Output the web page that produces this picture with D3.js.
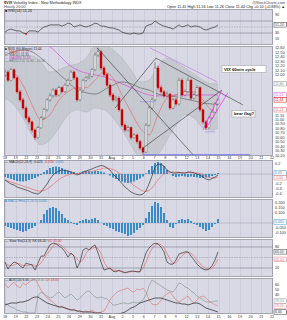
<!DOCTYPE html>
<html><head><meta charset="utf-8">
<script src="https://cdn.jsdelivr.net/npm/d3@7"></script>
<style>
body{margin:0;background:#fff}
svg{display:block}
text{font-family:"Liberation Sans",Arial,sans-serif}
</style>
</head><body>
<svg id="c" width="287" height="320"></svg>
<script>
// ---------- DATA ----------
const dayLabels=["18","19","22","23","24","25","26","29","30","31","Aug","2","5","6","7","8","9","12","13","14","15","16","19","20","21","22"];
const open =[12.00,12.06,11.88,12.11,11.93,11.62,11.44,11.26,11.04,10.95,10.77,10.60,10.82,11.04,11.22,11.44,11.53,11.66,11.55,11.71,11.62,11.77,11.88,12.06,11.93,11.44,11.66,11.88,11.93,11.97,12.11,12.44,12.51,12.15,12.00,11.77,11.55,11.44,11.48,11.22,10.88,10.77,10.82,10.60,10.66,10.51,10.37,10.28,10.88,11.26,11.44,12.15,11.71,11.62,11.53,11.57,11.26,11.44,11.35,11.88,11.55,11.62,11.88,11.48,11.55,11.71,11.22,10.95,10.82,11.04,11.17,11.35];
const high =[12.12,12.10,12.16,12.14,11.96,11.66,11.48,11.30,11.08,10.98,10.80,10.86,11.08,11.26,11.48,11.58,11.70,11.70,11.75,11.74,11.81,11.92,12.10,12.09,11.96,11.70,11.91,11.97,12.01,12.15,12.50,12.60,12.55,12.20,12.04,11.80,11.59,11.53,11.52,11.25,10.92,10.87,10.85,10.70,10.69,10.55,10.40,10.92,11.30,11.50,12.28,12.20,11.76,11.66,11.62,11.60,11.48,11.48,11.93,11.92,11.67,11.95,11.91,11.60,11.76,11.74,11.25,10.99,11.08,11.21,11.39,11.48];
const low  =[11.95,11.84,11.85,11.90,11.58,11.40,11.22,11.00,10.90,10.72,10.55,10.57,10.79,11.00,11.18,11.40,11.49,11.51,11.52,11.58,11.59,11.74,11.85,11.89,11.40,11.41,11.63,11.85,11.90,11.94,12.08,12.40,12.10,11.96,11.73,11.51,11.40,11.41,11.18,10.84,10.73,10.74,10.56,10.57,10.47,10.33,10.22,10.26,10.85,11.22,11.41,11.67,11.58,11.49,11.50,11.22,11.23,11.31,11.32,11.51,11.52,11.59,11.44,11.45,11.52,11.18,10.91,10.77,10.79,11.01,11.14,11.32];
const close=[12.06,11.88,12.11,11.93,11.62,11.44,11.26,11.04,10.95,10.77,10.60,10.82,11.04,11.22,11.44,11.53,11.66,11.55,11.71,11.62,11.77,11.88,12.06,11.93,11.44,11.66,11.88,11.93,11.97,12.11,12.44,12.51,12.15,12.00,11.77,11.55,11.44,11.48,11.22,10.88,10.77,10.82,10.60,10.66,10.51,10.37,10.28,10.88,11.26,11.44,12.15,11.71,11.62,11.53,11.57,11.26,11.44,11.35,11.88,11.55,11.62,11.88,11.48,11.55,11.71,11.22,10.95,10.82,11.04,11.17,11.35,11.44];
// overlays sampled every 3 bars
const ovIdx  =[0,3,6,9,12,15,18,21,24,27,30,33,36,39,42,45,48,51,54,57,60,63,66,69,71];
const bbUpper=[12.28,12.37,12.44,12.42,12.28,12.06,12.11,12.20,12.24,12.37,12.64,12.68,12.55,12.37,12.11,11.84,11.88,12.20,12.37,12.28,12.15,12.02,11.88,11.80,11.80];
const bbLower=[11.48,11.33,11.04,10.66,10.44,10.55,10.82,11.11,11.22,11.17,11.26,11.22,11.04,10.77,10.44,10.15,10.11,10.22,10.55,10.88,11.11,11.04,10.82,10.77,10.82];
const ma10   =[11.97,12.02,11.77,11.33,11.00,11.11,11.44,11.62,11.71,11.71,11.88,12.06,11.93,11.55,11.17,10.82,10.66,11.11,11.48,11.55,11.62,11.62,11.44,11.22,11.22];
const ma50   =[12.44,12.51,12.55,12.51,12.37,12.20,12.02,11.84,11.66,11.60,11.57,11.66,11.77,11.84,11.80,11.71,11.66,11.57,11.53,11.51,11.46,11.42,11.37,11.35,11.33];
const ma200  =[13.22,13.11,13.00,12.86,12.73,12.62,12.44,12.24,12.11,12.04,12.00,11.95,11.88,11.80,11.71,11.62,11.55,11.53,11.53,11.55,11.55,11.55,11.55,11.55,11.55];
const rsi=[33,40,43,40,37,37,30,27,37,37,37,33,43,50,53,57,57,57,57,53,57,63,60,50,53,57,53,50,53,57,63,60,53,53,50,47,47,43,40,33,30,27,27,30,27,27,30,53,57,60,70,63,57,53,50,47,43,50,57,50,53,57,50,53,53,50,43,40,43,47,50,57];
const macd=[-0.12,-0.16,-0.20,-0.22,-0.26,-0.28,-0.30,-0.32,-0.34,-0.37,-0.39,-0.40,-0.36,-0.28,-0.20,-0.10,-0.02,0.03,0.06,0.08,0.07,0.06,0.04,0.01,-0.02,0.00,0.04,0.06,0.08,0.10,0.13,0.15,0.17,0.16,0.12,0.08,0.00,-0.06,-0.12,-0.19,-0.26,-0.31,-0.36,-0.39,-0.41,-0.42,-0.40,-0.34,-0.20,-0.04,0.14,0.20,0.19,0.16,0.08,0.04,0.02,0.02,0.03,0.02,0.02,0.04,0.04,0.02,0.00,-0.02,-0.06,-0.10,-0.12,-0.09,-0.06,-0.02];
const signal=[-0.12,-0.14,-0.16,-0.18,-0.20,-0.22,-0.24,-0.26,-0.28,-0.30,-0.32,-0.34,-0.34,-0.33,-0.30,-0.26,-0.21,-0.16,-0.11,-0.07,-0.04,-0.02,0.00,0.01,0.01,0.01,0.02,0.03,0.04,0.05,0.07,0.09,0.10,0.12,0.12,0.11,0.09,0.06,0.02,-0.03,-0.08,-0.13,-0.18,-0.23,-0.27,-0.31,-0.34,-0.35,-0.33,-0.28,-0.20,-0.12,-0.05,0.00,0.03,0.04,0.04,0.04,0.03,0.03,0.02,0.03,0.03,0.03,0.02,0.01,-0.01,-0.04,-0.07,-0.08,-0.08,-0.06];
const macdHist=[-0.06,-0.08,-0.10,-0.12,-0.14,-0.15,-0.15,-0.14,-0.12,-0.10,-0.08,-0.05,-0.02,0.04,0.08,0.12,0.14,0.15,0.14,0.12,0.09,0.07,0.05,0.04,0.02,0.03,0.05,0.06,0.06,0.05,0.06,0.06,0.05,0.03,0.00,-0.03,-0.07,-0.10,-0.13,-0.15,-0.17,-0.18,-0.17,-0.15,-0.12,-0.09,-0.05,0.01,0.08,0.16,0.22,0.24,0.22,0.16,0.08,0.00,-0.04,-0.06,-0.05,-0.04,-0.05,-0.06,-0.05,-0.06,-0.07,-0.08,-0.08,-0.07,-0.06,-0.04,-0.02,0.02];
const hist2=[-0.03,-0.04,-0.05,-0.06,-0.07,-0.08,-0.09,-0.08,-0.06,-0.05,-0.03,0.00,0.03,0.09,0.13,0.15,0.16,0.15,0.12,0.09,0.05,0.03,0.01,-0.01,-0.02,0.02,0.03,0.04,0.03,0.04,0.05,0.03,0.00,-0.02,-0.03,-0.05,-0.06,-0.08,-0.09,-0.10,-0.11,-0.13,-0.12,-0.10,-0.07,-0.05,-0.02,0.05,0.11,0.17,0.21,0.20,0.16,0.10,0.03,-0.04,-0.05,-0.01,0.03,0.04,0.03,0.04,0.02,-0.01,-0.02,-0.04,-0.06,-0.08,-0.07,-0.04,-0.01,0.04];
const stochK=[37,17,29,37,34,26,20,34,31,29,14,34,54,54,71,86,91,89,83,77,66,51,63,54,20,37,71,77,71,80,86,63,37,14,17,20,11,9,14,9,6,9,11,11,9,9,37,63,77,86,91,89,80,66,37,31,31,43,60,63,66,66,54,43,31,23,17,14,17,26,43,66];
const stochD=[35,28,27,28,33,32,27,27,28,31,25,26,34,47,60,70,83,89,88,83,75,65,60,56,46,37,43,62,73,76,79,76,62,38,23,17,15,13,11,11,8,8,9,10,10,10,18,36,59,75,85,89,87,78,61,45,33,35,45,55,63,65,62,54,43,32,24,18,16,19,29,45];
const adx  =[20,22,24,24,24,26,26,28,30,34,36,36,32,28,24,22,20,18,16,16,14,12,10,10,8,8,6,6,6,6,4,4,4,2,2,2,0,2,2,4,6,10,14,16,20,24,26,28,30,32,34,34,34,32,30,28,26,24,24,22,22,20,22,24,24,22,18,14,12,10,8,6];
const plusDI=[24,20,16,14,10,8,6,6,4,4,4,38,46,42,38,34,36,42,46,40,34,38,42,36,30,34,40,46,48,42,36,34,36,34,32,26,20,20,22,24,24,22,24,26,24,26,30,40,58,70,66,62,58,54,50,48,46,54,64,62,56,54,48,44,38,34,30,26,26,26,28,28];
const minusDI=[62,54,60,66,58,54,64,60,66,70,72,62,50,42,34,30,26,20,16,18,14,12,10,12,8,6,6,8,6,10,6,4,6,8,18,30,38,44,48,50,52,54,48,46,52,50,54,46,30,22,20,22,30,38,42,46,38,30,26,30,34,38,30,24,30,36,38,34,28,24,20,18];
const priceTicks=[10.2,10.3,10.4,10.5,10.6,10.7,10.8,10.9,11.0,11.1,11.2,11.3,11.4,11.5,11.6,11.7,11.8,11.9,12.0,12.1,12.2,12.3,12.4,12.5,12.6];
const rsiTicks=[90,70,30,10];
const macdTicks=[0.2,0.1,0.0,-0.1,-0.2,-0.3,-0.4];
const histTicks=[0.2,0.15,0.1,0.05,-0.05,-0.1];
const stochTicks=[80,20];
const adxTicks=[60,50,40,30,20,10];
// drawn annotation lines [barIndexA, priceA, barIndexB, priceB]
const trendBlack=[[30.7,12.60,62.7,10.22],[36.7,11.26,50.3,12.37],[50.3,12.37,79.3,11.33],[46,10.37,72.3,11.66]];
const trendViolet=[[48.3,12.60,70.7,11.84]];
const trendMagenta=[[66,10.77,72.3,11.66],[67.7,10.88,74.3,11.60]];
const supportThick=[[46,10.22,81.7,10.22]];
const supportThin=[[45,11.40,50,11.40],[66.7,10.73,70,10.73]];

// ---------- LAYOUT ----------
const svg=d3.select("#c");
const L=4,R=273;
const BG="#d9d9e6",GRID="#c3c3d6",BORDER="#8e8ea0",TXT="#333";
const xi=d3.scaleLinear().domain([0,71]).range([5,218]);
const xd=d3.scaleLinear().domain([0,25]).range([5,272]);
const FS=3.8;

function panel(top,bottom,id){
  const g=svg.append("g");
  g.append("rect").attr("x",L).attr("y",top).attr("width",R-L).attr("height",bottom-top).attr("fill",BG);
  g.selectAll("line.v").data(dayLabels).join("line").attr("x1",(d,i)=>Math.round(xd(i))+0.5).attr("x2",(d,i)=>Math.round(xd(i))+0.5)
    .attr("y1",top).attr("y2",bottom).attr("stroke",GRID).attr("stroke-width",0.6);
  svg.append("clipPath").attr("id",id).append("rect").attr("x",L).attr("y",top).attr("width",R-L).attr("height",bottom-top);
  const inner=svg.append("g").attr("clip-path",`url(#${id})`);
  return {g,inner,top,bottom};
}
function border(p){svg.append("rect").attr("x",L+0.5).attr("y",p.top+0.5).attr("width",R-L-1).attr("height",p.bottom-p.top-1).attr("fill","none").attr("stroke",BORDER).attr("stroke-width",0.7);}
// right labels, skipping those that collide with value boxes
function rightLabels(ticks,y,fmt,boxYs){
  const keep=ticks.filter(t=>!(boxYs||[]).some(b=>Math.abs(y(t)-b)<4.6));
  svg.append("g").selectAll("text").data(keep).join("text").attr("x",275).attr("y",d=>y(d)+1.3).attr("font-size",FS).attr("fill",TXT).text(fmt);
}
function hline(p,y,v,dash,col,w){p.inner.append("line").attr("x1",L).attr("x2",R).attr("y1",y(v)).attr("y2",y(v)).attr("stroke",col).attr("stroke-width",w||0.7).attr("stroke-dasharray",dash||null);}
// value boxes, pushed apart so they never overlap
function valueBoxes(items){
  items.sort((a,b)=>a[0]-b[0]);
  for(let i=1;i<items.length;i++){ if(items[i][0]-items[i-1][0]<4.8) items[i][0]=items[i-1][0]+4.8; }
  items.forEach(([y,txt,col])=>{
    const g=svg.append("g");
    g.append("rect").attr("x",274).attr("y",y-2.2).attr("width",12.5).attr("height",4.4).attr("fill","#fff").attr("stroke",col).attr("stroke-width",0.5);
    g.append("text").attr("x",275).attr("y",y+1.3).attr("font-size",3.5).attr("fill",col).text(txt);
  });
  return items.map(d=>d[0]);
}
function linePath(p,vals,y,col,w,idx){
  const ln=d3.line().x((d,i)=>xi(idx?idx[i]:i)).y(d=>y(d));
  p.inner.append("path").attr("d",ln(vals)).attr("fill","none").attr("stroke",col).attr("stroke-width",w);
}

// ---------- HEADER ----------
svg.append("text").attr("x",4).attr("y",4).attr("font-size",FS).attr("fill","#222")
  .html('<tspan font-weight="bold">$VIX</tspan> Volatility Index - New Methodology  INDX');
svg.append("text").attr("x",285).attr("y",3.5).attr("text-anchor","end").attr("font-size",FS).attr("fill","#444").text("@StockCharts.com");
svg.append("text").attr("x",4).attr("y",8).attr("font-size",FS).attr("fill","#444").text("Hourly  20:00");
svg.append("text").attr("x",285).attr("y",8).attr("text-anchor","end").attr("font-size",FS).attr("fill","#222")
  .text("Open 11.41  High 11.56  Low 11.26  Close 11.44  Chg +0.10 (+0.88%) \u25B2");

// ---------- RSI ----------
const pR=panel(9,45,"cR");
const yR=d3.scaleLinear().domain([0,100]).range([42,12]);
hline(pR,yR,70,null,"#8a8a9a",0.7);hline(pR,yR,30,null,"#8a8a9a",0.7);hline(pR,yR,50,"1.5,1","#9a9aaa",0.6);
linePath(pR,rsi,yR,"#333",0.7);
pR.inner.append("circle").attr("cx",xi(7)).attr("cy",yR(rsi[7])).attr("r",0.9).attr("fill","#d00");
border(pR);
let bx=valueBoxes([[yR(rsi[71]),"51.24","#333"]]);
rightLabels(rsiTicks,yR,d=>d,bx);
svg.append("text").attr("x",5).attr("y",12).attr("font-size",FS).attr("fill","#222").text("\u25A0 RSI(14) 51.24");

// ---------- PRICE ----------
const pP=panel(46,156,"cP");
const yP=d3.scaleLinear().domain([10.17,12.64]).range([157,46]);
const area=d3.area().x((d,i)=>xi(ovIdx[i])).y0((d,i)=>yP(bbLower[i])).y1(d=>yP(d)).curve(d3.curveMonotoneX);
pP.inner.append("path").attr("d",area(bbUpper)).attr("fill","#bfc4c8").attr("opacity",0.75);
const ul=d3.line().x((d,i)=>xi(ovIdx[i])).y(d=>yP(d)).curve(d3.curveMonotoneX);
pP.inner.append("path").attr("d",ul(bbUpper)).attr("fill","none").attr("stroke","#aab0b4").attr("stroke-width",0.5);
pP.inner.append("path").attr("d",ul(bbLower)).attr("fill","none").attr("stroke","#aab0b4").attr("stroke-width",0.5);
pP.inner.append("path").attr("d",ul(ma200)).attr("fill","none").attr("stroke","#d84fd8").attr("stroke-width",0.7);
pP.inner.append("path").attr("d",ul(ma50)).attr("fill","none").attr("stroke","#555").attr("stroke-width",0.6);
pP.inner.append("path").attr("d",ul(ma10)).attr("fill","none").attr("stroke","#e06060").attr("stroke-width",0.6);
// candles
const cg=pP.inner.append("g");
close.forEach((c,i)=>{
  const o=open[i],x=Math.round(xi(i));
  const down=c<o;
  cg.append("line").attr("x1",x).attr("x2",x).attr("y1",yP(high[i])).attr("y2",yP(low[i])).attr("stroke",down?"#c00":"#555").attr("stroke-width",0.6);
  const yt=yP(Math.max(o,c)),yb=yP(Math.min(o,c));
  cg.append("rect").attr("x",x-1).attr("y",yt).attr("width",2).attr("height",Math.max(0.8,yb-yt))
    .attr("fill",down?"#d00000":"#f4f4f4").attr("stroke",down?"#b00":"#555").attr("stroke-width",0.4);
});
function segs(arr,col,w){arr.forEach(s=>pP.inner.append("line").attr("x1",xi(s[0])).attr("y1",yP(s[1])).attr("x2",xi(s[2])).attr("y2",yP(s[3])).attr("stroke",col).attr("stroke-width",w));}
segs(supportThick,"#8c8cf0",1.6);
segs(supportThin,"#8c8cf0",0.6);
segs(trendBlack,"#333",0.6);
segs(trendViolet,"#b070e0",0.6);
segs(trendMagenta,"#ff00ff",0.6);
// annotations
function note(x,y,w,h,txt){
  svg.append("rect").attr("x",x).attr("y",y).attr("width",w).attr("height",h).attr("fill","#fff").attr("stroke","#999").attr("stroke-width",0.5);
  svg.append("text").attr("x",x+2).attr("y",y+h-1.8).attr("font-size",4.2).attr("font-weight","bold").attr("fill","#111").text(txt);
}
note(222,65.5,44,7,"VIX 60min cycle");
note(232,110.5,23,6.5,"bear flag?");
border(pP);
bx=valueBoxes([[yP(11.80),"11.80","#888"],[yP(11.55),"11.55","#d84fd8"],[yP(11.44),"11.44","#c00"],[yP(11.22),"11.22","#e06060"]]);
rightLabels(priceTicks,yP,d=>d.toFixed(2),bx);
// legend
const leg=[["\u25A0 $VIX (60 Minute) 11.44","#222"],["\u2014 MA(10) 11.22","#d04040"],["\u2014 MA(50) 11.33","#555"],["\u2014 MA(200) 11.55","#c040c0"],["\u2014 BB(20,2.0) 11.80 - 10.82","#777"]];
leg.forEach((d,i)=>svg.append("text").attr("x",5).attr("y",49.5+i*3).attr("font-size",3.3).attr("fill",d[1]).text(d[0]));

// date labels rows
function dateRow(y){svg.append("g").selectAll("text").data(dayLabels).join("text").attr("x",(d,i)=>xd(i)).attr("y",y).attr("text-anchor","middle").attr("font-size",FS).attr("fill",TXT).text(d=>d);}
dateRow(159);

// ---------- MACD ----------
const pM=panel(160,198,"cM");
const yM=d3.scaleLinear().domain([-0.48,0.28]).range([198,160]);
hline(pM,yM,0,null,"#9a9aaa",0.5);
pM.inner.append("g").selectAll("rect").data(macdHist).join("rect").attr("x",(d,i)=>xi(i)-1).attr("width",2)
  .attr("y",d=>Math.min(yM(d),yM(0))).attr("height",d=>Math.abs(yM(d)-yM(0))).attr("fill","#3a8cc8");
linePath(pM,signal,yM,"#e07070",0.7);
linePath(pM,macd,yM,"#333",0.7);
border(pM);
bx=valueBoxes([[yM(0.02),"0.02","#3a8cc8"],[yM(-0.06),"-0.06","#e07070"]]);
rightLabels(macdTicks,yM,d=>d.toFixed(1),bx);
svg.append("text").attr("x",5).attr("y",163).attr("font-size",3.3).attr("fill","#222")
  .html('\u2014 MACD(12,26,9) -0.023, <tspan fill="#d04040">-0.058</tspan>, <tspan fill="#3a8cc8">0.035</tspan>');

// ---------- HIST ----------
const pH=panel(199,238,"cH");
const yH=d3.scaleLinear().domain([-0.15,0.24]).range([238,199]);
hline(pH,yH,0,null,"#9a9aaa",0.5);
pH.inner.append("g").selectAll("rect").data(hist2).join("rect").attr("x",(d,i)=>xi(i)-1).attr("width",2)
  .attr("y",d=>Math.min(yH(d),yH(0))).attr("height",d=>Math.abs(yH(d)-yH(0))).attr("fill","#3a8cc8");
border(pH);
bx=valueBoxes([[yH(0.01),"0.040","#3a8cc8"]]);
rightLabels(histTicks,yH,d=>d.toFixed(3),bx);
svg.append("text").attr("x",5).attr("y",202).attr("font-size",3.3).attr("fill","#3a8cc8").text("\u25A0 MACD-Hist(12,26,9) 0.040");

// ---------- STOCH ----------
const pS=panel(239,277,"cS");
const yS=d3.scaleLinear().domain([0,100]).range([275,240]);
hline(pS,yS,80,null,"#8a8a9a",0.7);hline(pS,yS,20,null,"#8a8a9a",0.7);hline(pS,yS,50,"1.5,1","#9a9aaa",0.6);
linePath(pS,stochD,yS,"#e07070",0.7);
linePath(pS,stochK,yS,"#333",0.7);
border(pS);
bx=valueBoxes([[yS(66),"66.00","#333"],[yS(45),"45.00","#e07070"]]);
rightLabels(stochTicks,yS,d=>d,bx);
svg.append("text").attr("x",5).attr("y",242).attr("font-size",3.3).attr("fill","#222")
  .html('\u2014 Slow Sto(14,3) %K 66.00 <tspan fill="#d04040">%D 45.00</tspan>');

// ---------- ADX ----------
const pA=panel(278,314,"cA");
const yA=d3.scaleLinear().domain([0,70]).range([315,280]);
linePath(pA,minusDI,yA,"#d88080",0.7);
linePath(pA,plusDI,yA,"#8a9a98",0.7);
linePath(pA,adx,yA,"#222",0.7);
border(pA);
bx=valueBoxes([[yA(28),"28.00","#8a9a98"],[yA(18),"18.00","#d88080"],[yA(6),"6.00","#222"]]);
rightLabels(adxTicks,yA,d=>d,bx);
svg.append("text").attr("x",5).attr("y",281).attr("font-size",3.3).attr("fill","#222")
  .html('\u2014 ADX(14) 6.00 <tspan fill="#7a8a88">+DI 28.00</tspan> <tspan fill="#d04040">-DI 18.00</tspan>');
dateRow(318);
</script>
</body></html>
